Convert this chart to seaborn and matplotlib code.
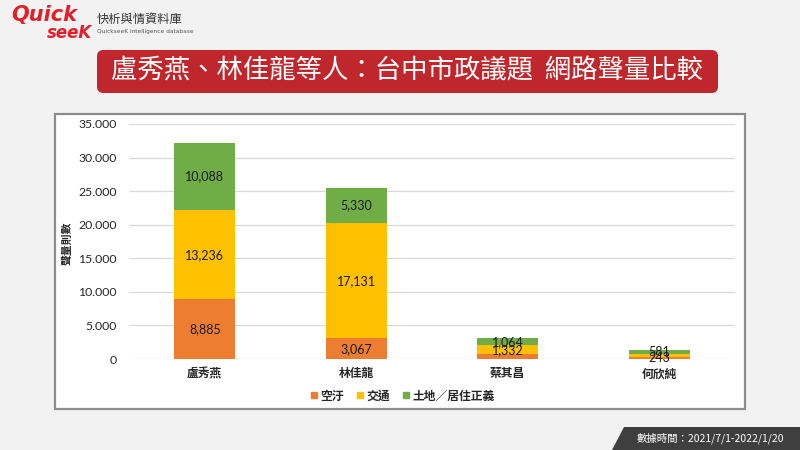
import matplotlib
matplotlib.use("Agg")
import matplotlib.pyplot as plt
import seaborn as sns
import pandas as pd
import numpy as np
from matplotlib.patches import FancyBboxPatch, Rectangle, Polygon
from matplotlib.lines import Line2D
from matplotlib.ticker import FuncFormatter

# ---- data ----
candidates = ["盧秀燕", "林佳龍", "蔡其昌", "何欣純"]
series_names = ["空汙", "交通", "土地／居住正義"]
air = [8885, 3067, 700, 243]
traffic = [13236, 17131, 1332, 570]
land = [10088, 5330, 1064, 581]
air_labels = ["8,885", "3,067", "", "243"]
traffic_labels = ["13,236", "17,131", "1,332", ""]
land_labels = ["10,088", "5,330", "1,064", "581"]
yticks = [0, 5000, 10000, 15000, 20000, 25000, 30000, 35000]
title = "盧秀燕、林佳龍等人：台中市政議題  網路聲量比較"
note = "數據時間：2021/7/1-2022/1/20"

colors = ["#ED7D31", "#FFC000", "#70AD47"]

sns.set_theme(style="white")
CJK = ["Noto Sans CJK TC", "DejaVu Sans"]
plt.rcParams["font.family"] = CJK

W, H = 800, 450
fig = plt.figure(figsize=(8, 4.5), dpi=100)
fig.patch.set_facecolor("#F2F2F2")

def fx(x):
    return x / W

def fy(y):
    return 1 - y / H

# chart panel
fig.patches.append(Rectangle((fx(55), fy(409)), fx(745) - fx(55), fy(114) - fy(409),
                             transform=fig.transFigure, facecolor="white",
                             edgecolor="#8C8C8C", linewidth=1.6, zorder=-5))

# title banner
fig.patches.append(FancyBboxPatch((fx(97), fy(93)), fx(718) - fx(97), fy(50) - fy(93),
                                  boxstyle="round,pad=0,rounding_size=0.008",
                                  transform=fig.transFigure, facecolor="#C0272D",
                                  edgecolor="none", mutation_aspect=800/450, zorder=-4))
fig.text(fx(407), fy(71), title, color="white", fontsize=19, ha="center", va="center",
         family=CJK)

# logo
fig.text(fx(11), fy(15), "Quick", color="#E2202B", fontsize=15, fontweight="bold",
         fontstyle="italic", family=["DejaVu Sans"], ha="left", va="center")
fig.text(fx(47), fy(33), "seeK", color="#E2202B", fontsize=12, fontweight="bold",
         fontstyle="italic", family=["DejaVu Sans"], ha="left", va="center")
fig.text(fx(97), fy(19), "快析與情資料庫", color="#333333", fontsize=8.8, ha="left",
         va="center", family=CJK)
fig.text(fx(97), fy(31), "QuickseeK intelligence database", color="#555555", fontsize=4.2,
         ha="left", va="center", family=["DejaVu Sans"])

# note at bottom right
fig.patches.append(Polygon([(fx(612), fy(450)), (fx(624), fy(427)), (fx(800), fy(427)),
                            (fx(800), fy(450))], closed=True, transform=fig.transFigure,
                           facecolor="#3F3F3F", edgecolor="none", zorder=-4))
fig.text(fx(710), fy(438), note, color="white", fontsize=7.5, ha="center", va="center",
         family=CJK)

# axes
ax = fig.add_axes([fx(129), fy(359), fx(735) - fx(129), fy(124) - fy(359)])
ax.set_zorder(2)
ax.set_facecolor("none")
ax.patch.set_alpha(0)

df = pd.DataFrame({"cand": candidates, "air": air, "traffic": traffic, "land": land})
df["c1"] = df["air"]
df["c2"] = df["air"] + df["traffic"]
df["c3"] = df["c2"] + df["land"]

for col, c in zip(["c3", "c2", "c1"], colors[::-1]):
    sns.barplot(data=df, x="cand", y=col, color=c, width=0.4, ax=ax,
                saturation=1, order=candidates, zorder=3, linewidth=0, edgecolor=c)

# labels
for i in range(len(candidates)):
    segs = [(0, air[i], air_labels[i]),
            (air[i], traffic[i], traffic_labels[i]),
            (air[i] + traffic[i], land[i], land_labels[i])]
    for b, v, lab in segs:
        if lab:
            ax.text(i, b + v / 2, lab, ha="center", va="center", fontsize=9,
                    color="#1A1A1A", family=["Lato", "DejaVu Sans"], zorder=5)

ax.set_xlim(-0.5, 3.5)
ax.set_ylim(0, 35000)
ax.set_yticks(yticks)
ax.yaxis.set_major_formatter(FuncFormatter(lambda v, p: f"{int(v):,}".replace(",", ".")))
for t in ax.get_yticklabels():
    t.set_family(["Lato", "DejaVu Sans"])
    t.set_fontsize(8.8)
    t.set_color("#262626")
ax.tick_params(axis="y", length=0, pad=9)
ax.tick_params(axis="x", length=0, pad=6)
for t in ax.get_xticklabels():
    t.set_family(CJK)
    t.set_fontsize(8.5)
    t.set_fontweight("bold")
    t.set_color("#262626")
ax.grid(axis="y", color="#D9D9D9", linewidth=0.9, zorder=0)
ax.set_axisbelow(True)
for s in ax.spines.values():
    s.set_visible(False)
ax.set_xlabel("")
ax.set_ylabel("")
fig.text(fx(67), fy(243), "聲量則數", rotation=90, ha="center", va="center", fontsize=7.8,
         fontweight="bold", color="#262626", family=CJK)

handles = [Line2D([0], [0], marker="s", linestyle="none", markersize=4.5,
                  markerfacecolor=c, markeredgecolor=c) for c in colors]
leg = fig.legend(handles, series_names, loc="center", bbox_to_anchor=(fx(402), fy(396)),
                 ncol=3, frameon=False, handletextpad=0.1, columnspacing=1.0,
                 handlelength=0.8, prop={"family": CJK, "size": 8.5, "weight": "bold"})
for t in leg.get_texts():
    t.set_color("#262626")

fig.savefig("out.png", dpi=100, facecolor=fig.get_facecolor())
